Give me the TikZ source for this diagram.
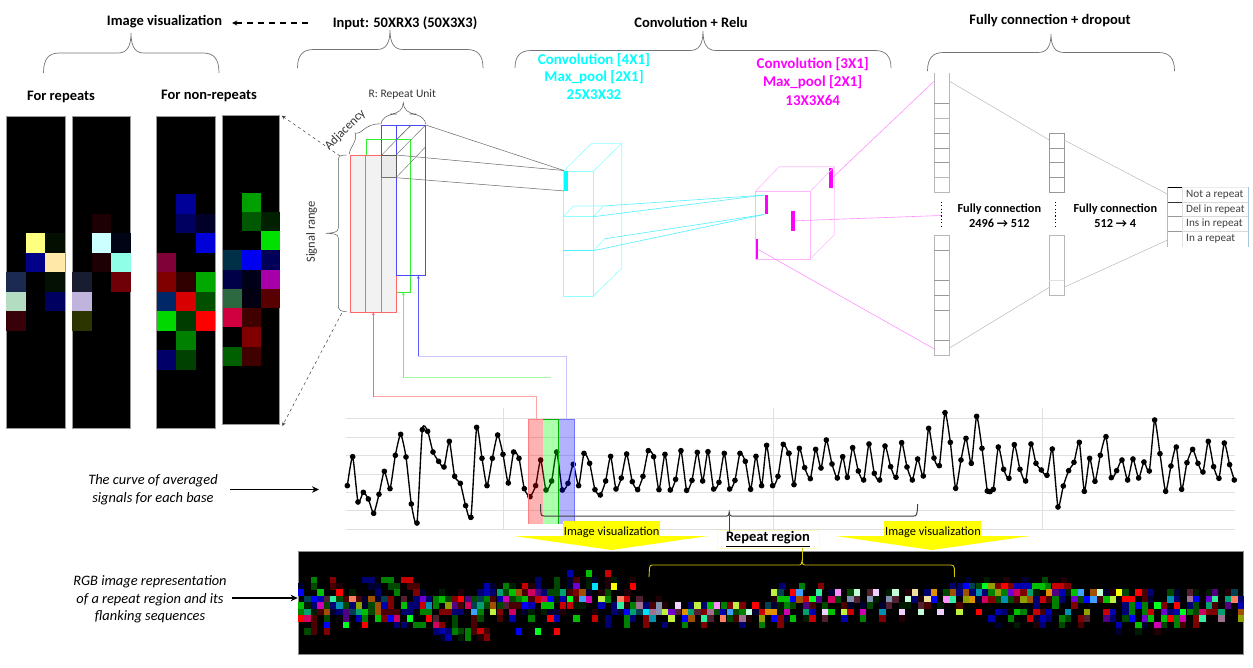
\documentclass[tikz,border=0pt]{standalone}
\usepackage{fontspec}
\setmainfont{Carlito}
\usetikzlibrary{arrows.meta,calc}
\definecolor{cy}{HTML}{00FFFF}\definecolor{mg}{HTML}{FF00FF}\definecolor{yl}{HTML}{FFFF00}
\definecolor{cyl1}{HTML}{90FFFF}\definecolor{cyl2}{HTML}{50F0FF}\definecolor{mgl1}{HTML}{FFB8FF}\definecolor{mgl2}{HTML}{FF90FF}
\definecolor{blu}{HTML}{4848FF}\definecolor{grn}{HTML}{30F030}\definecolor{rdl}{HTML}{FF6868}
\def\defq#1#2{\definecolor{q#1}{HTML}{#2}}
\defq{R}{FF0000}\defq{r}{C80000}\defq{d}{800000}\defq{e}{480000}\defq{f}{200004}
\defq{G}{00FF20}\defq{g}{00C000}\defq{h}{008000}\defq{i}{004800}\defq{j}{001C00}
\defq{B}{0000FF}\defq{b}{0000B0}\defq{n}{000070}\defq{m}{000030}
\defq{C}{00E0FF}\defq{T}{0090B0}\defq{t}{004050}
\defq{Y}{FFFF00}\defq{O}{E09000}\defq{o}{A05000}\defq{P}{FF90FF}\defq{M}{D000B0}\defq{V}{7000D0}\defq{v}{500080}
\defq{W}{F0D0FF}\defq{w}{C0FFD8}\defq{L}{C0F040}\defq{l}{90A000}\defq{S}{FF8060}\defq{Q}{30F0A0}\defq{q}{00A070}
\defq{K}{40A0FF}\defq{A}{A07090}\defq{a}{502030}\defq{X}{8090B0}\defq{x}{D00060}\defq{c}{F0E0A0}
\newcommand{\striprow}[3]{\foreach \xx/\kk in {#3}{\fill[fill=q\kk] ({#1+\xx/3},{545+(#2-9.6)/3}) rectangle ++(6.4,6.43);}}
\newcommand{\imgcells}[6]{\foreach \cc/\rr/\hh in {#6}{\definecolor{tmpc}{HTML}{\hh}\fill[fill=tmpc] ({#1+\cc*#3},{#2+\rr*#4}) rectangle ++(#3,#4);}}
\newcommand{\curly}[7][bracel]{\draw[#1] (#2,#7) .. controls (#2,{#6+6}) and ({#2+5},#6) .. ({#2+16},#6) -- ({#4-13},#6) .. controls ({#4-5},#6) and (#4,{#6-5}) .. (#4,#5) .. controls (#4,{#6-5}) and ({#4+5},#6) .. ({#4+13},#6) -- ({#3-16},#6) .. controls ({#3-5},#6) and (#3,{#6+6}) .. (#3,#7);}
\tikzset{
 bracel/.style={draw=black!55,line width=.7pt},
 title/.style={font=\fontsize{14.5}{16}\selectfont\bfseries,inner sep=0pt,align=center},
 sub/.style={font=\fontsize{12.3}{15}\selectfont\bfseries,inner sep=0pt,align=center},
 cyt/.style={font=\fontsize{15}{16}\selectfont\bfseries,inner sep=0pt,text=cy},
 mgt/.style={font=\fontsize{15}{16}\selectfont\bfseries,inner sep=0pt,text=mg},
 ital/.style={font=\fontsize{14.4}{17.5}\selectfont\itshape,inner sep=0pt,align=center},
 small/.style={font=\fontsize{11.5}{13}\selectfont,inner sep=0pt,text=black!80},
 outp/.style={font=\fontsize{11.2}{12}\selectfont,inner sep=0pt,text=black!75,anchor=west},
 imgbox/.style={fill=black,draw=black!40,line width=.6pt},
 cyl/.style={draw=cyl1,line width=.6pt},
 mgl/.style={draw=mgl1,line width=.6pt},
 dk/.style={draw=black!55,line width=.45pt},
 fcl/.style={draw=black!28,line width=.5pt},
 fcd/.style={draw=black!40,line width=.7pt},
 cbar/.style={draw=none,fill=cy},
 mbar/.style={draw=none,fill=mg},
 gridl/.style={draw=black!12,line width=.7pt},
 dotsl/.style={draw=black,line width=1.2pt,dash pattern=on 1.2pt off 2.2pt},
 vizbg/.style={fill=yl,draw=none},
 fullarrow/.style={-{Stealth[length=7pt,width=6.5pt]},line width=1.5pt},
 thinarr/.style={-{Stealth[length=4pt,width=3.5pt]},dashed,line width=.5pt,draw=black!75},
 wire/.style={-{Stealth[length=3pt,width=3pt]},line width=.6pt},
 plt/.style={line width=1.35pt},
}
\begin{document}
\begin{tikzpicture}[x=1pt,y=-1pt]
\useasboundingbox (0,0) rectangle (1253,667);
% ---- titles
\node[title] (t1) at (164.5,22) {Image visualization};
\node[title] (t2) at (405,23) {Input: 50XRX3 (50X3X3)};
\node[title] (t3) at (691,22) {Convolution + Relu};
\node[title] (t4) at (1050,21) {Fully connection + dropout};
\draw[-{Stealth[length=5pt,width=5pt]},line width=1.3pt,dash pattern=on 6pt off 5pt] (t2.west)++(-25,0) coordinate (dstart) -- ($(t1.east)+(10,1)$);
\curly{43.5}{219}{131}{33}{53}{73}
\curly{297.5}{483}{390}{30}{49.5}{68}
\curly{515}{891}{703}{31}{50.5}{68}
\curly{927.5}{1174.5}{1051}{34}{52.5}{71}
\node[title] (fr) at (61,97) {For repeats};
\node[title] (fn) at (209,96) {For non-repeats};
\node[cyt] (c1) at (594,60) {Convolution [4X1]};
\node[cyt] (c2) at (594,77) {Max\_pool [2X1]};
\node[cyt] (c3) at (594,95) {25X3X32};
\node[mgt] (m1) at (812.7,64.5) {Convolution [3X1]};
\node[mgt] (m2) at (812.7,82) {Max\_pool [2X1]};
\node[mgt] (m3) at (812.7,100) {13X3X64};
% ---- images
\draw[imgbox] (6.3,116.3) rectangle (65,428);
\imgcells{6.3}{116.3}{19.57}{19.5}{x}{1/6/FFFF80,2/6/040E00,1/7/000088,2/7/FFE8A8,0/8/1A2A50,2/8/041004,0/9/B4DCC0,2/9/000060,0/10/380008}
\draw[imgbox] (72,116) rectangle (130.5,428.5);
\imgcells{72}{116}{19.5}{19.5}{x}{1/5/1C0004,1/6/CCFFFF,2/6/000414,1/7/1C0004,2/7/90FFE8,0/8/181E30,2/8/700008,0/9/C0B4DC,0/10/2C3400}
\draw[imgbox] (156.5,116) rectangle (215,428);
\imgcells{156.5}{116}{19.5}{19.5}{x}{1/4/000098,1/5/000060,2/5/000028,2/6/0000D8,0/7/800038,0/8/800000,1/8/300000,2/8/00A800,0/9/002868,1/9/D80000,2/9/005000,0/10/00D800,1/10/003C00,2/10/FF0000,1/11/008000,0/12/000068,1/12/004000}
\draw[imgbox] (222.5,115.5) rectangle (279,424);
\imgcells{222.5}{115.5}{19.2}{19.25}{x}{1/4/00A000,1/5/005800,2/5/002000,2/6/00E000,0/7/003048,1/7/0000F0,2/7/000058,0/8/000048,1/8/000018,2/8/A800A8,0/9/2C6840,1/9/000010,2/9/580000,0/10/D00040,1/10/400000,1/11/800000,0/12/006000,1/12/400000}
% ---- input stack
\draw[draw=blu,line width=.8pt,fill=white] (381,125) coordinate (bt) rectangle (425.7,275.7);
\fill[white] (381,160) rectangle (395.5,276.5);
\draw[draw=grn,line width=.8pt] (366.3,155) -- (366.3,139.7) -- (410.7,139.7) -- (410.7,292.3) -- (396,292.3);
\draw[draw=blu,line width=.8pt] (396,125) -- (396,155);
\draw[draw=blu,line width=.8pt] (396,275.7) -- (425.7,275.7);
\draw[draw=rdl,line width=.9pt,fill=black!5] (350.7,155) rectangle (396,312.3);
\draw[draw=rdl,line width=.9pt] (365.7,155) -- (365.7,312.3) (381,155) -- (381,312.3);
\draw[draw=blu,line width=.8pt] (396,155) -- (396,275.7);
\draw[dk,fill=black!8] (381.7,155) rectangle (396,177.7);
\draw[draw=black!65,line width=.8pt] (381.7,155) -- (396,155) -- (396,177.7);
\coordinate (cA) at (425.7,125); \coordinate (cB) at (396,155); \coordinate (cC) at (396,177.7);
\draw[dk] (381.7,155) -- (411,125);
\draw[dk] (cA) -- (425.7,146.7) -- (cC);
\draw[dk] (cB) -- (cA);
\draw[dk] (396,140) -- (411,125.5);
% brace for R, adjacency, range
\curly[draw=black!65,line width=.5pt]{381}{425.7}{403.3}{102.7}{114}{124}
\node[small] (ru) at (402.3,94.7) {R: Repeat Unit};
\draw[draw=black!65,line width=.5pt] (349.3,154) .. controls (350,146) and (358,142) .. (355,133) .. controls (362,135) and (365,123) .. (380.7,124);
\node[small,rotate=45,font=\fontsize{12.5}{13}\selectfont] (adj) at (345.3,130) {Adjacency};
\draw[draw=black!65,line width=.5pt] (346.7,155) .. controls (341,155) and (338.3,156) .. (338.3,160) -- (338.3,228) .. controls (338.3,232) and (334,233) .. (326,233.3) .. controls (334,233.6) and (338.3,234) .. (338.3,238) -- (338.3,306) .. controls (338.3,310) and (341,311.5) .. (346.7,311.7);
\node[small,rotate=90,font=\fontsize{12.5}{13}\selectfont] (sr) at (311.7,232) {Signal range};
\draw[thinarr] (340,156) -- (281.7,115.7);
\draw[thinarr] (341.7,313.3) -- (282.3,426);
% ---- cyan cube
\draw[cyl] (563.3,171.3) rectangle (593.3,296);
\draw[cyl] (591.7,143.3) -- (621.7,143.3) -- (621.7,268.3) -- (593.3,296);
\draw[cyl] (563.3,171.3) -- (591.7,143.3) (593.3,171.3) -- (621.7,143.3);
\draw[cyl] (563.3,216.7) -- (593.3,216.7);
\draw[draw=cyl2,line width=.9pt] (563.3,250.7) -- (593.3,250.7);
\draw[cyl] (563.3,216.7) -- (573.3,206) -- (603.3,206) -- (593.3,216.7);
\draw[cyl] (593.3,250.7) -- (605,238.7);
\node[cbar,minimum width=3.6pt,minimum height=20pt,inner sep=0pt] (cb) at (565.8,180.7) {};
\draw[draw=black!60,line width=.5pt] (cA) -- (cb.north west);
\draw[draw=black!60,line width=.5pt] (cB) -- (cb.north west);
\draw[draw=black!60,line width=.5pt] (cC) -- (cb.south west);
% ---- magenta cube
\node[mbar,minimum width=3.6pt,minimum height=20pt,inner sep=0pt] (mb1) at (830.7,177.5) {};
\node[mbar,minimum width=3.6pt,minimum height=19pt,inner sep=0pt] (mb2) at (766.3,204.8) {};
\node[mbar,minimum width=3.6pt,minimum height=20pt,inner sep=0pt] (mb3) at (792.7,220.8) {};
\node[mbar,minimum width=3.6pt,minimum height=20.5pt,inner sep=0pt] (mb4) at (756.3,249.6) {};
\draw[mgl] (755,191.7) rectangle (810,259.3);
\draw[mgl] (755,191.7) -- (779.3,166.7) -- (834.3,166.7) -- (834.3,235) -- (810,259.3);
\draw[mgl] (810,191.7) -- (834.3,166.7);
\draw[draw=cyl2,line width=.6pt] (603.3,206) -- (mb2.north west);
\draw[draw=cyl2,line width=.6pt] (593.3,216.7) -- (mb2.north west);
\draw[draw=cyl2,line width=.6pt] (605,238.7) -- (mb2.south west);
\draw[draw=cyl2,line width=.6pt] (593.3,250.7) -- (mb2.south west);
% ---- fully connected
\draw[fcl] (934.3,73.3) -- (934.3,192.7) -- (949,192.7) -- (949,73.3);
\foreach \yy in {103.3,133.3,148,162.7}{\draw[fcd] (934.3,\yy) -- (949,\yy);}
\foreach \yy in {118.3,177.3}{\draw[fcl] (934.3,\yy) -- (949,\yy);}
\draw[fcl] (934.3,235.3) rectangle (949,355.7);
\foreach \yy in {250,280.3,295.3,310.3,340.7}{\draw[fcd] (934.3,\yy) -- (949,\yy);}
\draw[dotsl] (941.3,201.7) -- (941.3,226.7);
\draw[fcd] (1049.3,133.3) rectangle (1064,192.7);
\foreach \yy in {148,162.7,177.3}{\draw[fcd] (1049.3,\yy) -- (1064,\yy);}
\draw[fcl] (1049.3,235.3) rectangle (1064,295);
\draw[draw=black!12,line width=.5pt] (1049.3,280) -- (1064,280);
\draw[dotsl] (1055.7,201.7) -- (1055.7,226.7);
\coordinate (f1a) at (934.3,81); \coordinate (f1b) at (949,81);
\coordinate (f1c) at (934.3,349); \coordinate (f1d) at (949,348.3);
\coordinate (f2a) at (1049.3,140); \coordinate (f2b) at (1064,140);
\coordinate (f2c) at (1049.3,287.3); \coordinate (f2d) at (1064,287.3);
\coordinate (o1) at (1167.7,194.3); \coordinate (o2) at (1167.7,240);
\draw[fcl] (f1b) -- (f2a) (f1d) -- (f2c) (f2b) -- (o1) (f2d) -- (o2);
\draw[draw=mgl2,line width=.6pt] (mb1.east) -- (f1a);
\draw[draw=mgl2,line width=.6pt] (mb3.east) -- (941,215.5);
\draw[draw=mgl2,line width=.6pt] (mb4.east) -- (f1c);
\node[sub] (fc1) at (999.3,216) {Fully connection\\2496 → 512};
\node[sub] (fc2) at (1115.3,215.5) {Fully connection\\512 → 4};
% output
\draw[draw=black!15,line width=.6pt] (1182.3,202) -- (1248.3,202) (1182.3,216.7) -- (1248.3,216.7) (1182.3,231.3) -- (1248.3,231.3);
\draw[draw=black!8,line width=.5pt] (1182.3,187.3) -- (1248.3,187.3);
\definecolor{outb}{HTML}{A8C4E0}
\draw[draw=outb,line width=.8pt] (1248.3,187.3) -- (1248.3,246.7);
\draw[fcl] (1167.7,187.3) -- (1167.7,246.7);
\draw[draw=black,line width=.6pt] (1167.7,187.3) -- (1182.3,187.3);
\draw[draw=black!80,line width=.6pt] (1167.7,202) -- (1182.3,202);
\draw[fcd] (1167.7,216.7) -- (1182.3,216.7) (1167.7,231.3) -- (1182.3,231.3);
\draw[draw=black!12,line width=.5pt] (1182.3,187.3) -- (1182.3,246.7);
\node[outp] (o-a) at (1186,195) {Not a repeat};
\node[outp] (o-b) at (1186,209.5) {Del in repeat};
\node[outp] (o-c) at (1186,224) {Ins in repeat};
\node[outp] (o-d) at (1186,239) {In a repeat};
% ---- signal plot
\foreach \yy in {418.3,437,455.3,474,492,510.3,529}{\draw[gridl] (346,\yy) -- (1235,\yy);}
\foreach \xx in {503.7,773.3,1042.3}{\draw[gridl] (\xx,408) -- (\xx,530);}
\begin{scope}[shift={(340,400)},x=.3333pt,y=-.3333pt]
\draw[plt] plot[smooth,tension=.35,mark=*,mark size=2.1pt,mark options={fill=black}] coordinates {(22,257)(38,170)(54,306)(70,277)(85,297)(101,340)(117,283)(133,214)(150,266)(166,166)(182,103)(198,171)(214,312)(231,369)(247,89)(263,94)(279,156)(296,184)(312,201)(328,124)(344,229)(361,250)(377,317)(393,352)(410,82)(426,175)(441,257)(457,175)(473,105)(489,163)(505,249)(521,156)(537,175)(553,266)(570,290)(587,257)(602,180)(618,270)(635,243)(650,156)(667,270)(684,250)(700,193)(716,257)(732,160)(749,190)(765,269)(781,285)(797,243)(812,169)(828,267)(844,234)(860,162)(877,245)(893,269)(909,229)(925,152)(941,170)(957,269)(975,163)(991,270)(1007,238)(1023,152)(1040,271)(1056,241)(1072,157)(1088,243)(1104,155)(1121,267)(1137,247)(1153,160)(1169,267)(1185,241)(1200,160)(1216,184)(1232,268)(1248,169)(1265,257)(1280,136)(1298,257)(1314,229)(1330,133)(1346,160)};
\end{scope}
\begin{scope}[shift={(790,400)},x=.3333pt,y=-.3333pt]
\draw[plt] plot[smooth,tension=.35,mark=*,mark size=2.1pt,mark options={fill=black}] coordinates {(-3,160)(12,254)(28,145)(44,203)(61,236)(77,148)(93,204)(109,120)(126,192)(142,234)(158,170)(172,232)(188,143)(205,213)(221,240)(237,132)(253,220)(269,240)(285,138)(302,200)(318,232)(335,128)(351,201)(367,240)(383,177)(400,228)(416,85)(432,174)(448,197)(465,38)(481,127)(497,265)(513,180)(528,115)(544,190)(560,49)(576,145)(592,273)(600,275)(610,268)(625,141)(641,208)(657,235)(673,134)(690,208)(707,243)(723,132)(738,190)(754,210)(771,226)(787,147)(804,321)(820,258)(836,212)(852,187)(868,127)(883,274)(899,175)(915,244)(931,166)(948,110)(964,233)(980,212)(996,180)(1013,240)(1029,177)(1046,234)(1062,186)(1078,213)(1094,60)(1110,161)(1127,274)(1143,198)(1159,141)(1175,268)(1191,188)(1208,148)(1224,190)(1239,216)(1255,124)(1271,200)(1287,235)(1303,129)(1319,194)(1333,240)};
\end{scope}
\coordinate (rs) at (536.7,419.3);\coordinate (gs) at (550.7,377.3);\coordinate (bs) at (566,419.3);
\fill[red,fill opacity=.3] (528.3,419.3) rectangle (543.3,524);
\fill[green,fill opacity=.32] (543.3,419.3) rectangle (558.5,524);
\fill[blue,fill opacity=.3] (559,419.3) rectangle (574,524);
\draw[draw=red!50,line width=.5pt] (528.3,524) -- (528.3,419.3) -- (543.3,419.3);
\draw[draw=green!70!black,line width=.6pt] (543.3,419.3) -- (558.5,419.3) (558.5,419.3) -- (558.5,524);
\draw[draw=blue!55,line width=.6pt] (559,419.3) -- (574,419.3) -- (574,524);
% wires
\draw[draw=rdl!60,line width=.6pt] (rs) |- (373.3,396.7);
\draw[wire,draw=rdl] (373.3,396.7) -- (373.3,312.3);
\draw[draw=grn!45,line width=.6pt] (gs) -- (403.3,377.3);
\draw[wire,draw=grn!75] (403.3,377.3) -- (403.3,292.3);
\draw[draw=blu!30,line width=.7pt] (bs) |- (418.3,356);
\draw[wire,draw=blu!90] (418.3,356) -- (418.3,275.7);
% repeat bracket
\draw[draw=black!75,line width=1pt] (540.5,504) -- (540.8,513) .. controls (541,515.5) and (542,516) .. (544,516) -- (727,516) .. controls (728.5,516) and (729,515) .. (729.2,512) .. controls (729.4,515) and (730,516) .. (731.5,516) -- (914,516) .. controls (916.5,516) and (917.3,515) .. (917.7,504);
\draw[draw=black!75,line width=1pt] (729.2,516) -- (729.2,532);
% yellow arrows
\fill[vizbg] (514,536) -- (708,536) -- (611.5,550) -- cycle;
\fill[vizbg] (563.3,521.3) rectangle (660,536.2);
\fill[vizbg] (835.7,536) -- (1030,536) -- (931.7,550) -- cycle;
\fill[vizbg] (884,521.3) rectangle (981.3,536.2);
\node[font=\fontsize{12.4}{14}\selectfont,inner sep=0pt] (iv1) at (611.7,532.5) {Image visualization};
\node[font=\fontsize{12.4}{14}\selectfont,inner sep=0pt] (iv2) at (933,532.5) {Image visualization};
\node[draw=yl!25,fill=white,line width=.6pt,minimum width=102pt,minimum height=18pt,inner sep=0pt,font=\fontsize{14.5}{15}\selectfont\bfseries] (rr) at (768,539) {\underline{Repeat region}};
\draw[draw=black!75,line width=1pt] (729.2,524) -- (729.2,532);
% ---- strip
\node[fill=black,draw=black!45,line width=.6pt,minimum width=945pt,minimum height=102.7pt,inner sep=0pt,anchor=north west] (strip) at (297.7,551) {};
\striprow{295}{85}{815/b,872/g,929/r}
\striprow{295}{105}{47/h,105/d,201/n,220/n,259/h,278/h,317/r,336/r,720/n,776/i,815/m,835/e,872/j,891/m,929/f,948/j,1005/f}
\striprow{295}{124}{8/m,47/i,105/e,124/f,220/m,240/m,278/i,297/i,336/e,355/e,566/b,585/m,624/h,643/j,680/r,700/f,720/n,776/i,815/m,835/V,872/j,891/C,929/f,948/Y,1005/R}
\striprow{295}{143}{8/B,67/g,124/R,163/j,240/n,297/h,355/d,374/m,432/j,489/f,547/n,566/b,585/n,605/q,624/i,643/g,662/o,681/e,700/x,720/v,739/n,757/i,776/i,795/q,815/e,835/d,853/o,872/m,910/f,929/i,988/f}
\striprow{295}{163}{28/t,47/B,67/b,86/a,105/Q,124/i,144/e,163/S,182/e,201/m,220/o,240/m,259/t,278/d,317/a,355/n,374/V,393/n,413/h,432/g,451/i,470/d,489/R,509/v,528/i,547/t,566/h,585/e,605/b,624/M,643/i,662/h,681/g,700/e,720/r,739/x,757/B,776/j,795/b,815/G,835/e,853/K,872/M,910/L,929/h,967/S,987/r,1024/a,1082/f}
\striprow{295}{182}{8/g,28/j,47/n,67/M,86/i,105/n,124/T,144/i,163/n,182/l,201/m,220/i,240/o,259/b,278/d,317/g,336/n,355/n,374/r,393/T,413/h,451/l,470/v,489/e,509/x,528/t,547/q,566/i,585/o,605/i,624/a,643/e,662/e,681/B,700/b,739/g,757/g,795/r,815/r,835/j,853/j,910/b,948/n,967/Q,987/f,1005/h,1024/A,1043/n,1063/e,1082/X,1101/f,1140/W,1180/n,1198/L,1218/n,1237/g,1256/P,1277/h,1295/d,1314/L,1333/d,1372/R,1410/t,1430/v}
\striprow{295}{201}{8/h,28/q,47/j,67/e,86/o,105/m,124/n,144/v,163/t,182/q,201/g,220/i,240/o,259/e,278/e,297/e,317/n,336/n,374/h,393/h,432/d,451/d,470/n,489/n,528/K,547/h,585/L,605/d,643/x,681/m,700/j,739/j,757/m,776/m,795/f,891/f,948/n,967/m,987/B,1005/q,1024/t,1043/C,1063/A,1082/X,1101/L,1120/V,1140/a,1160/O,1179/q,1198/a,1218/d,1237/A,1256/i,1275/b,1295/K,1314/i,1333/h,1352/w,1372/m,1391/r,1410/O,1430/m}
\striprow{295}{220}{8/R,28/x,47/e,86/i,144/v,182/b,201/h,240/g,259/d,278/B,297/x,336/G,393/R,413/a,470/i,528/e,547/i,605/e,643/b,700/h,757/R,776/b,835/g,891/r,929/n,987/h,1005/n,1043/d,1063/T,1120/L,1160/B,1180/o,1218/Q,1237/a,1275/S,1295/i,1314/e,1333/A,1352/f,1391/l,1430/b}
\striprow{295}{240}{47/e,86/B,144/G,201/R,297/n,317/n,355/h,374/h,413/x,432/d,470/i,528/e,929/n,987/h,1043/d,1101/n,1160/h,1218/d,1333/n,1391/h}
\striprow{295}{259}{28/i,47/e,86/d,413/n,432/b,451/n,470/h,489/i,509/h,528/e,547/r,566/e,662/B,719/G,776/R}
\striprow{295}{278}{432/m,451/b,489/j,509/h,547/f,566/d}
\striprow{770}{105}{585/m,642/j,700/f,757/m,815/i,872/f}
\striprow{770}{124}{28/n,86/h,144/d,540/n,560/n,578/B,597/t,617/i,636/G,655/l,675/d,694/R,713/d,732/b,751/b,770/b,787/g,806/g,825/h,845/r,864/r,883/d}
\striprow{770}{143}{2/L,22/t,60/R,79/K,137/Q,175/m,194/P,232/i,252/w,290/a,309/W,347/j,367/w,405/f,425/c,463/n,482/O,520/i,540/o,559/n,578/o,597/n,617/T,636/n,655/h,675/l,694/h,713/V,732/x,751/d,770/q,790/j,828/O,847/v,866/b,885/j,904/g,923/K,961/o,980/w,1000/m,1019/f,1038/Y,1057/i,1096/R,1115/e,1134/n,1192/i,1211/m,1250/a,1269/j,1307/j,1326/v,1365/f,1384/t}
\striprow{770}{163}{2/f,22/g,41/g,60/B,79/o,98/r,118/G,137/v,175/x,194/i,232/X,252/a,290/X,309/j,347/X,367/a,405/w,425/n,444/f,463/c,482/B,520/P,540/Q,578/l,597/O,617/m,636/x,655/d,675/i,694/T,713/i,732/e,751/l,770/o,790/n,809/r,828/e,847/h,866/n,904/V,923/i,942/B,961/K,980/e,1000/g,1019/L,1057/R,1077/R,1115/e,1134/m,1192/T,1211/n,1250/A,1269/B,1307/V,1326/Q,1365/q,1384/S,1404/n}
\striprow{770}{182}{2/m,22/j,41/h,60/i,98/v,118/e,156/i,214/e,232/m,270/m,290/i,328/m,347/a,386/j,405/j,444/a,463/e,502/j,559/e,790/n,847/h,904/d,1057/n,1077/h,1096/B,1115/h,1153/G,1173/d,1211/R,1250/n,1269/i,1307/q,1326/e,1365/v,1404/b}
\striprow{770}{201}{2/O,22/j,41/M,98/q,118/b,156/W,175/g,214/L,232/r,270/M,328/T,387/W,444/w,502/W,559/L,617/R,675/b,694/n,732/g,751/h,790/r,809/e,828/b,885/T,942/l,1000/r,1019/b,1057/n,1077/h,1115/h,1134/r,1173/V,1192/n,1211/b,1230/G,1250/h,1269/i,1288/x,1307/d,1326/d,1345/q,1404/o}
\striprow{770}{220}{2/B,22/d,41/m,60/g,98/j,118/r,156/a,214/b,270/h,328/d,386/f,655/b,713/h,770/r,790/m,809/b,828/n,866/h,885/i,923/d,942/a,1000/v,1019/n,1057/i,1077/B,1115/V,1134/g,1173/g,1192/R,1211/h,1230/M,1269/d,1288/Q,1345/A,1404/l}
\striprow{770}{240}{22/d,675/m,732/j,790/f,809/n,866/i,923/e,1038/b,1096/g,1115/m,1153/M,1173/i,1211/h,1230/e,1269/d}
\striprow{770}{259}{1038/m,1096/j,1153/f}
\definecolor{ybr}{HTML}{D8C800}
\draw[draw=ybr,line width=.9pt] (649,577) -- (649.5,568) .. controls (649.6,566) and (650.5,565) .. (652,565) -- (799.5,565) .. controls (801,565) and (801.7,564) .. (802,561) .. controls (802.3,564) and (803,565) .. (804.5,565) -- (951,565) .. controls (953,565) and (954,566) .. (954.3,568) -- (954.5,577);
\draw[draw=ybr,line width=.9pt] (802,561) -- (802,548);
% ---- left notes
\node[ital] (n1) at (153,489.5) {The curve of averaged\\signals for each base};
\node[ital] (n2) at (150,599.5) {RGB image representation\\of a repeat region and its\\flanking sequences};
\draw[fullarrow] (230,489.5) -- (319,489.5);
\draw[fullarrow] (232,598) -- (strip.west |- 0,598);
\end{tikzpicture}
\end{document}
